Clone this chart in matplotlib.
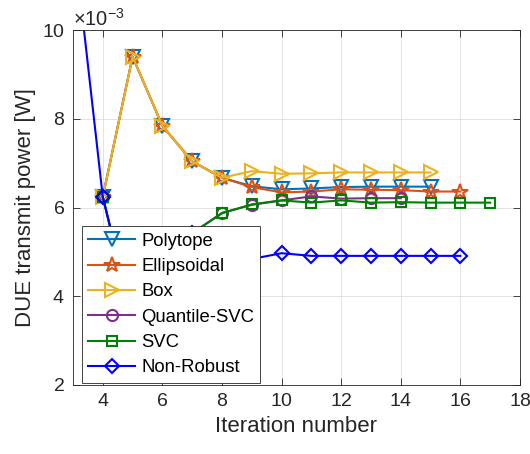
import matplotlib
matplotlib.use("Agg")
import matplotlib.pyplot as plt
from matplotlib.ticker import ScalarFormatter

plt.rcParams["font.family"] = ["Liberation Sans", "DejaVu Sans"]
plt.rcParams["mathtext.fontset"] = "custom"
plt.rcParams["mathtext.rm"] = "Liberation Sans"
plt.rcParams["axes.formatter.use_mathtext"] = True

# transmit power per iteration, in units of 1e-3 W
x_polytope = [4, 5, 6, 7, 8, 9, 10, 11, 12, 13, 14, 15]
polytope = [6.24, 9.40, 7.84, 7.04, 6.67, 6.48, 6.41, 6.43, 6.46, 6.47, 6.47, 6.47]

x_ellipsoidal = [4, 5, 6, 7, 8, 9, 10, 11, 12, 13, 14, 15, 16]
ellipsoidal = [6.24, 9.40, 7.84, 7.04, 6.67, 6.46, 6.34, 6.36, 6.41, 6.40, 6.39, 6.36, 6.36]

x_box = [4, 5, 6, 7, 8, 9, 10, 11, 12, 13, 14, 15]
box = [6.24, 9.40, 7.84, 7.04, 6.67, 6.82, 6.76, 6.77, 6.79, 6.79, 6.79, 6.79]

x_quantile = [4, 5, 6, 7, 8, 9, 10, 11, 12, 13, 14]
quantile_svc = [6.24, 3.50, 4.60, 5.42, 5.88, 6.06, 6.16, 6.25, 6.20, 6.21, 6.21]

x_svc = [4, 5, 6, 7, 8, 9, 10, 11, 12, 13, 14, 15, 16, 17]
svc = [6.24, 3.50, 4.60, 5.42, 5.87, 6.07, 6.16, 6.11, 6.16, 6.11, 6.12, 6.11, 6.11, 6.11]

x_nonrobust = [3, 4, 5, 6, 7, 8, 9, 10, 11, 12, 13, 14, 15, 16]
nonrobust = [12.2, 6.24, 3.50, 4.60, 5.42, 4.95, 4.84, 4.97, 4.91, 4.91, 4.91, 4.91, 4.91, 4.91]

series = [
    ("Polytope", x_polytope, polytope, "#0072BD", "v", 10.5),
    ("Ellipsoidal", x_ellipsoidal, ellipsoidal, "#D95319", "*", 11.5),
    ("Box", x_box, box, "#EDB120", ">", 10.5),
    ("Quantile-SVC", x_quantile, quantile_svc, "#7E2F8E", "o", 8),
    ("SVC", x_svc, svc, "#008000", "s", 7.5),
    ("Non-Robust", x_nonrobust, nonrobust, "#0000FF", "D", 7.5),
]

fig = plt.figure(figsize=(5.3, 4.54), dpi=100)
ax = fig.add_axes([0.1377, 0.152, 0.8434, 0.7819])

for name, xs, ys, color, marker, ms in series:
    ax.plot(xs, [v * 1e-3 for v in ys], color=color, marker=marker, ms=ms,
            mfc="none", mew=1.5, lw=1.5, label=name)

ax.set_xlim(3, 18)
ax.set_ylim(2e-3, 10e-3)
ax.set_xticks([4, 6, 8, 10, 12, 14, 16, 18])
ax.set_yticks([2e-3, 4e-3, 6e-3, 8e-3, 10e-3])

fmt = ScalarFormatter(useMathText=True)
fmt.set_powerlimits((-3, -3))
ax.yaxis.set_major_formatter(fmt)
ax.yaxis.get_offset_text().set_fontsize(14.5)
ax.yaxis.get_offset_text().set_color("#262626")

ax.grid(True, color="#dedede", lw=0.6)
ax.set_axisbelow(True)
ax.tick_params(direction="in", top=True, right=True, length=5, width=0.6,
               labelsize=14, colors="#262626", pad=6)
for sp in ax.spines.values():
    sp.set_color("#262626")
    sp.set_linewidth(0.6)

ax.set_xlabel("Iteration number", fontsize=16, color="#262626")
ax.set_ylabel("DUE transmit power [W]", fontsize=16, color="#262626")

leg = ax.legend(loc="lower left", bbox_to_anchor=(0.02, 0.006), borderaxespad=0,
                fontsize=13.3, handlelength=2.55, handletextpad=0.3,
                labelspacing=0.45, borderpad=0.35, fancybox=False,
                framealpha=1, edgecolor="#262626")
leg.get_frame().set_linewidth(0.6)

fig.savefig("out.png", dpi=100)
